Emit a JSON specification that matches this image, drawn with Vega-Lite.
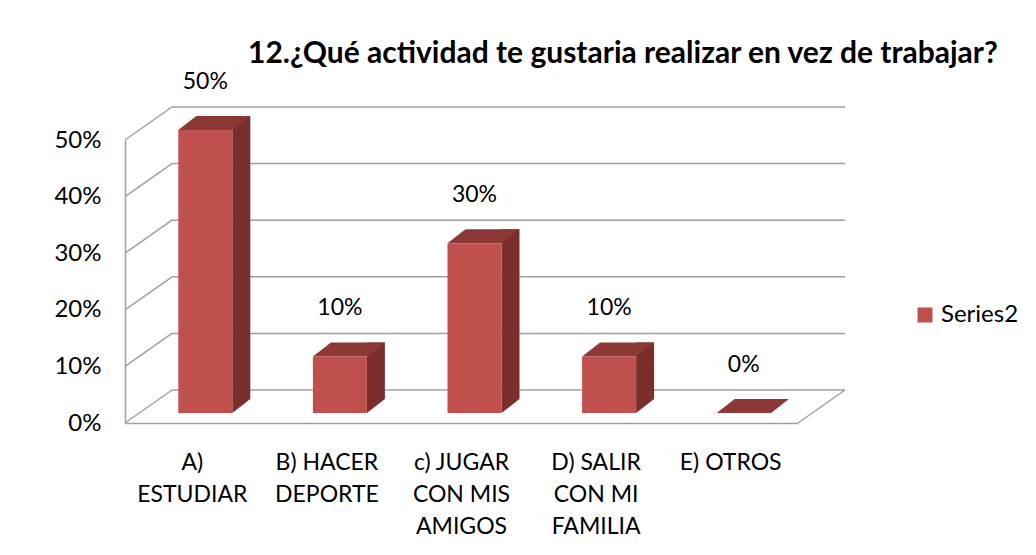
{
  "$schema": "https://vega.github.io/schema/vega-lite/v6.json",
  "width": 673,
  "height": 283,
  "autosize": {"type": "none"},
  "padding": {"left": 125, "top": 140, "right": 238, "bottom": 132},
  "background": "white",
  "config": {
    "font": "Lato",
    "view": {"stroke": null},
    "axis": {"labelFont": "Lato", "labelColor": "#000000"},
    "legend": {"labelFont": "Lato"}
  },
  "title": {
    "text": "12.¿Qué actividad te gustaria realizar en vez de trabajar?",
    "font": "Lato",
    "fontSize": 30,
    "fontWeight": "bold",
    "color": "#000000",
    "anchor": "start",
    "frame": "group",
    "dx": 123,
    "offset": 2
  },
  "datasets": {
    "bars": [
      {"categoria": "A)\nESTUDIAR", "valor": 0.5, "serie": "Series2"},
      {"categoria": "B) HACER\nDEPORTE", "valor": 0.1, "serie": "Series2"},
      {"categoria": "c) JUGAR\nCON MIS\nAMIGOS", "valor": 0.3, "serie": "Series2"},
      {"categoria": "D) SALIR\nCON MI\nFAMILIA", "valor": 0.1, "serie": "Series2"},
      {"categoria": "E) OTROS", "valor": 0.0, "serie": "Series2"}
    ],
    "ticks": [
      {"t": 0}, {"t": 0.1}, {"t": 0.2}, {"t": 0.3}, {"t": 0.4}, {"t": 0.5}
    ]
  },
  "layer": [
    {
      "data": {"name": "ticks"},
      "mark": {"type": "rule", "color": "#A0A0A0", "strokeWidth": 1.5, "xOffset": 47, "x2Offset": 47, "yOffset": -33, "y2Offset": -33},
      "encoding": {
        "x": {"datum": "A)\nESTUDIAR", "type": "nominal", "bandPosition": 0},
        "x2": {"datum": "E) OTROS", "bandPosition": 1},
        "y": {"field": "t", "type": "quantitative", "scale": {"domain": [0, 0.5], "nice": false}, "axis": {"values": [0, 0.1, 0.2, 0.3, 0.4, 0.5], "format": "%", "grid": false, "ticks": false, "domainColor": "#A0A0A0", "domainWidth": 1.5, "labelFontSize": 24, "labelPadding": 24, "title": null}}
      }
    },
    {
      "data": {"name": "ticks"},
      "mark": {"type": "rule", "color": "#A0A0A0", "strokeWidth": 1.5, "x2Offset": 47, "y2Offset": -33},
      "encoding": {
        "x": {"datum": "A)\nESTUDIAR", "type": "nominal", "bandPosition": 0},
        "x2": {"datum": "A)\nESTUDIAR", "bandPosition": 0},
        "y": {"field": "t", "type": "quantitative"},
        "y2": {"field": "t"}
      }
    },
    {
      "data": {"values": [{"t": 0}]},
      "mark": {"type": "rule", "color": "#A0A0A0", "strokeWidth": 1.5, "x2Offset": 47, "y2Offset": -33},
      "encoding": {
        "x": {"datum": "E) OTROS", "type": "nominal", "bandPosition": 1},
        "x2": {"datum": "E) OTROS", "bandPosition": 1},
        "y": {"field": "t", "type": "quantitative"},
        "y2": {"field": "t"}
      }
    },
    {
      "data": {"name": "bars"},
      "mark": {"type": "bar", "color": "#7B2F2D", "width": 18, "xOffset": 49, "yOffset": -24, "y2Offset": -24},
      "encoding": {
        "x": {"field": "categoria", "type": "nominal", "sort": null},
        "y": {"field": "valor", "type": "quantitative"},
        "y2": {"datum": 0}
      }
    },
    {
      "data": {"name": "bars"},
      "mark": {"type": "point", "filled": true, "opacity": 1, "strokeWidth": 0, "size": 4, "color": "#7B2F2D", "shape": "M27,0L27,-14L45,-14Z", "xOffset": 13, "yOffset": -10},
      "encoding": {
        "x": {"field": "categoria", "type": "nominal", "sort": null},
        "y": {"datum": 0, "type": "quantitative"}
      }
    },
    {
      "data": {"name": "bars"},
      "mark": {"type": "point", "filled": true, "opacity": 1, "strokeWidth": 0, "size": 4, "color": "#8E3836", "shape": "M-27,0L27,0L45,-14L-9,-14Z", "xOffset": 13, "yOffset": -10},
      "encoding": {
        "x": {"field": "categoria", "type": "nominal", "sort": null},
        "y": {"field": "valor", "type": "quantitative"}
      }
    },
    {
      "data": {"name": "bars"},
      "mark": {"type": "bar", "width": 54, "xOffset": 13, "yOffset": -10, "y2Offset": -10},
      "encoding": {
        "x": {
          "field": "categoria", "type": "nominal", "sort": null,
          "scale": {"domain": ["A)\nESTUDIAR", "B) HACER\nDEPORTE", "c) JUGAR\nCON MIS\nAMIGOS", "D) SALIR\nCON MI\nFAMILIA", "E) OTROS"], "paddingInner": 0, "paddingOuter": 0},
          "axis": {"labelAngle": 0, "labelAlign": "center", "labelExpr": "split(datum.value, '\\n')", "labelFontSize": 23, "labelLineHeight": 32, "labelPadding": 28, "ticks": false, "domainColor": "#A0A0A0", "domainWidth": 1.5, "title": null, "labelBaseline": "top"}
        },
        "y": {"field": "valor", "type": "quantitative"},
        "y2": {"datum": 0},
        "color": {
          "field": "serie", "type": "nominal",
          "scale": {"range": ["#C0504D"]},
          "legend": {"title": null, "orient": "none", "legendX": 788, "legendY": 163, "symbolType": "square", "symbolSize": 225, "symbolStrokeWidth": 0, "labelFontSize": 24, "labelColor": "#000000", "padding": 0}
        }
      }
    },
    {
      "data": {"name": "bars"},
      "mark": {"type": "text", "fontSize": 23, "font": "Lato", "color": "#000000", "xOffset": 13, "yOffset": -10, "dy": -48},
      "encoding": {
        "x": {"field": "categoria", "type": "nominal", "sort": null},
        "y": {"field": "valor", "type": "quantitative"},
        "text": {"field": "valor", "type": "quantitative", "format": ".0%"}
      }
    }
  ]
}
